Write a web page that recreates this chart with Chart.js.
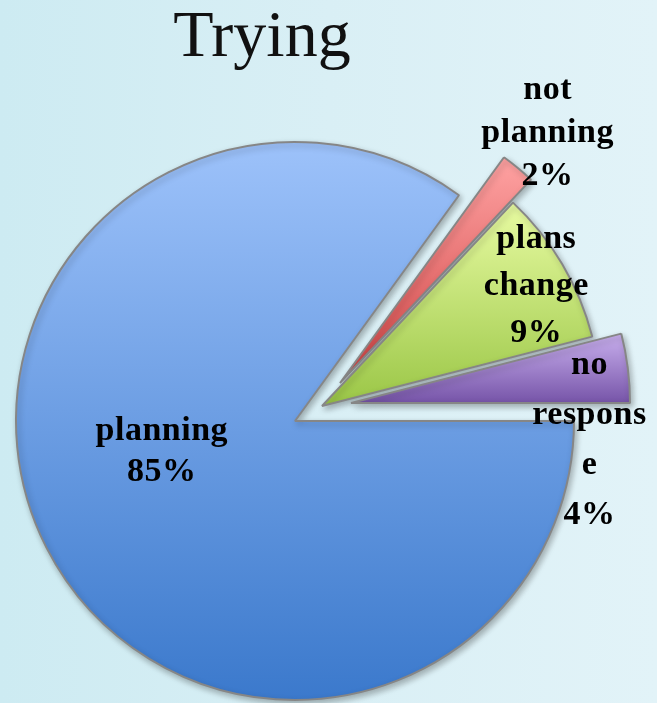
<!DOCTYPE html>
<html>
<head>
<meta charset="utf-8">
<script src="https://cdn.jsdelivr.net/npm/chart.js@4/dist/chart.umd.min.js"></script>
<style>
  html, body { margin: 0; padding: 0; }
  body {
    width: 657px; height: 703px; overflow: hidden;
    background: linear-gradient(to right, #cdebf2 0%, #d9eff5 50%, #e2f3f8 100%);
  }
  canvas { display: block; }
</style>
</head>
<body>
<canvas id="myChart" width="657" height="703"></canvas>
<script>
// pie data
const titleText = "Trying";
const categories = ["planning", "not planning", "plans change", "no response"];
const values = [85, 2, 9, 4];
// how each label wraps inside its box (last line is the percent)
const labelLines = [["planning"], ["not", "planning"], ["plans", "change"], ["no", "respons", "e"]];

// colours: top and bottom of each slice's vertical gradient
const topColors = ["#9dc2fa", "#ffa3a3", "#e8fba2", "#c9b0ee"];
const bottomColors = ["#3b79cc", "#cf4343", "#9ac646", "#7654a8"];

// exploded slices: shift of each slice's centre in px
const sliceShift = [[0, 0], [45, -38], [27, -15], [56, -18]];
// label block centre: angle (deg, clockwise from 3 o'clock) and distance as fraction of radius
const labelPolar = [[167, 0.49], [-50.3, 1.165], [-29.2, 0.88], [8.8, 0.865]];
const labelLineGap = [41, 43, 47, 50];

const FONT = '"Liberation Serif", "Times New Roman", serif';

// move slices outward and give each one its own top-to-bottom gradient
const explodePlugin = {
  id: "explode",
  afterDatasetUpdate(chart, args) {
    const ctx = chart.ctx;
    args.meta.data.forEach((arc, i) => {
      arc.x += sliceShift[i][0];
      arc.y += sliceShift[i][1];
      let top = arc.y, bottom = arc.y;
      for (let k = 0; k <= 60; k++) {
        const a = arc.startAngle + (arc.endAngle - arc.startAngle) * k / 60;
        const y = arc.y + Math.sin(a) * arc.outerRadius;
        top = Math.min(top, y);
        bottom = Math.max(bottom, y);
      }
      const g = ctx.createLinearGradient(0, top, 0, bottom);
      g.addColorStop(0, topColors[i]);
      g.addColorStop(1, bottomColors[i]);
      arc.options.backgroundColor = g;
    });
  }
};

// soft drop shadow under the slices
const shadowPlugin = {
  id: "sliceShadow",
  beforeDatasetsDraw(chart) {
    const ctx = chart.ctx;
    ctx.save();
    ctx.shadowColor = "rgba(0, 0, 0, 0.28)";
    ctx.shadowBlur = 6;
    ctx.shadowOffsetX = 2;
    ctx.shadowOffsetY = 3;
  },
  afterDatasetsDraw(chart) {
    chart.ctx.restore();
  }
};

// category + percent labels and the title
const labelPlugin = {
  id: "sliceLabels",
  afterDraw(chart) {
    const ctx = chart.ctx;
    const arcs = chart.getDatasetMeta(0).data;
    ctx.save();
    ctx.fillStyle = "#000";
    ctx.textAlign = "center";
    ctx.textBaseline = "middle";
    ctx.font = "bold 34px " + FONT;
    ctx.letterSpacing = "0.5px";
    arcs.forEach((arc, i) => {
      const lines = labelLines[i].concat([values[i] + "%"]);
      const a = labelPolar[i][0] * Math.PI / 180;
      const r = labelPolar[i][1] * arc.outerRadius;
      const cx = arc.x + Math.cos(a) * r;
      const cy = arc.y + Math.sin(a) * r;
      const gap = labelLineGap[i];
      lines.forEach((t, j) => {
        ctx.fillText(t, cx, cy + (j - (lines.length - 1) / 2) * gap);
      });
    });
    ctx.letterSpacing = "0px";
    ctx.font = "66px " + FONT;
    ctx.fillStyle = "#111";
    ctx.textBaseline = "alphabetic";
    ctx.fillText(titleText, 262, 56);
    ctx.restore();
  }
};

const myChart = new Chart(document.getElementById("myChart"), {
  type: "pie",
  data: {
    labels: categories,
    datasets: [
      {
        data: values,
        backgroundColor: topColors,
        borderColor: "#868686",
        borderWidth: 2,
      },
    ],
  },
  options: {
    responsive: false,
    animation: false,
    rotation: 90, // start at 3 o'clock
    radius: 279,
    layout: { padding: { left: 0, right: 67, top: 139, bottom: 0 } },
    plugins: {
      legend: { display: false },
      tooltip: { enabled: false },
    },
  },
  plugins: [explodePlugin, shadowPlugin, labelPlugin],
});
</script>
</body>
</html>
